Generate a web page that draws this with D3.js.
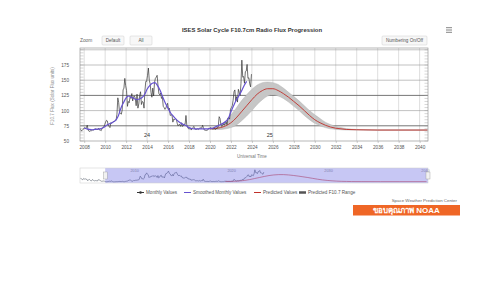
<!DOCTYPE html>
<html>
<head>
<meta charset="utf-8">
<script src="https://cdn.jsdelivr.net/npm/d3@7"></script>
<style>
  html, body { margin: 0; padding: 0; background: #fff; }
  svg { display: block; font-family: "Liberation Sans", Arial, sans-serif; }
</style>
</head>
<body>
<div id="chart"></div>
<script>
// observed monthly F10.7, one row per year starting 2005
const monthlyStart = 2005;
const monthlyValues = [
  100, 97, 90, 86, 99, 93, 96, 90, 91, 77, 86, 90,          // 2005
  83, 76, 76, 89, 81, 76, 76, 79, 77, 74, 87, 84,           // 2006
  83, 77, 72, 72, 74, 74, 72, 69, 67, 67, 69, 70,           // 2007
  72, 71, 72, 76, 68, 66, 66, 67, 67, 68, 68, 69,           // 2008
  70, 70, 69, 69, 71, 68, 68, 67, 71, 72, 73, 77,           // 2009
  81, 84, 83, 76, 74, 72, 80, 79, 81, 82, 82, 84,           // 2010
  84, 94, 121, 113, 96, 96, 94, 101, 134, 137, 153, 141,    // 2011
  133, 107, 115, 113, 122, 120, 128, 116, 123, 124, 120, 108, // 2012
  127, 104, 111, 125, 131, 110, 115, 114, 104, 132, 148, 148, // 2013
  158, 170, 150, 144, 130, 122, 137, 124, 146, 153, 155, 158, // 2014
  141, 128, 126, 129, 120, 123, 107, 105, 102, 104, 109, 112, // 2015
  101, 104, 92, 93, 93, 81, 86, 85, 87, 86, 79, 75,         // 2016
  77, 77, 74, 80, 74, 75, 78, 77, 92, 76, 72, 70,           // 2017
  70, 71, 68, 70, 72, 74, 70, 69, 69, 70, 69, 70,           // 2018
  72, 71, 71, 76, 72, 68, 68, 67, 68, 68, 71, 71,           // 2019
  72, 71, 70, 70, 70, 70, 69, 71, 71, 74, 90, 87,           // 2020
  77, 74, 76, 78, 76, 79, 81, 77, 88, 88, 86, 102,          // 2021
  105, 108, 117, 131, 134, 116, 123, 114, 135, 130, 125, 145, // 2022
  183, 155, 156, 145, 164, 165, 176, 153, 154, 144, 139, 160  // 2023
];

const smoothedDates = [
  2008.0, 2008.25, 2008.5, 2008.75, 2009.0, 2009.25, 2009.5, 2009.75,
  2010.0, 2010.25, 2010.5, 2010.75, 2011.0, 2011.25, 2011.5, 2011.75,
  2012.0, 2012.25, 2012.5, 2012.75, 2013.0, 2013.25, 2013.5, 2013.75,
  2014.0, 2014.25, 2014.5, 2014.75, 2015.0, 2015.25, 2015.5, 2015.75,
  2016.0, 2016.25, 2016.5, 2016.75, 2017.0, 2017.25, 2017.5, 2017.75,
  2018.0, 2018.25, 2018.5, 2018.75, 2019.0, 2019.25, 2019.5, 2019.75,
  2020.0, 2020.25, 2020.5, 2020.75, 2021.0, 2021.25, 2021.5, 2021.75,
  2022.0, 2022.25, 2022.5, 2022.75, 2023.0, 2023.25, 2023.5
];
const smoothedValues = [
  71, 70, 69, 68.5, 69, 69.5, 70, 71.5,
  74, 77, 79, 81, 84, 91, 104, 113,
  121, 124, 122, 120, 118, 119, 121, 126,
  135, 141, 145, 146, 141, 133, 122, 112,
  104, 96, 91, 86, 82, 79, 77, 75,
  72, 70.5, 70, 70, 70, 70, 70, 70,
  70.5, 71, 73, 75, 77, 79, 82, 87,
  98, 108, 117, 124, 132, 141, 148
];

const predictedDates = [
  2020.0, 2020.5, 2021.0, 2021.5, 2022.0, 2022.5, 2023.0, 2023.5,
  2024.0, 2024.5, 2025.0, 2025.5, 2026.0, 2026.5, 2027.0, 2027.5,
  2028.0, 2028.5, 2029.0, 2029.5, 2030.0, 2030.5, 2031.0, 2031.5,
  2032.0, 2032.5, 2033.0, 2034.0, 2036.0, 2038.0, 2040.75
];
const predictedValues = [
  70, 70.5, 72, 75, 80, 88, 98, 108,
  118, 127, 133, 136, 136, 133, 128, 122,
  115, 108, 100, 92, 85, 80, 76, 73,
  71, 70, 69, 68.5, 68, 68, 68
];
const predictedLow = [
  69, 69, 69, 70, 72, 76, 83, 91,
  100, 110, 118, 124, 126, 124, 120, 114,
  107, 100, 92, 85, 79, 75, 72, 70,
  69, 68.5, 68, 68, 67.5, 67.5, 67.5
];
const predictedHigh = [
  71, 73, 77, 83, 93, 104, 116, 126,
  135, 142, 146, 147, 146, 143, 137, 130,
  123, 116, 108, 100, 93, 87, 81, 77,
  74, 72, 70.5, 69, 68.5, 68.5, 68.5
];

const yTicks = [50, 75, 100, 125, 150, 175];
const xTicks = d3.range(2008, 2041, 2);
const navTicks = [2010, 2020, 2030, 2040];
const cycleLabels = [{t: 2014.0, label: '24'}, {t: 2025.7, label: '25'}];
const legendItems = ['Monthly Values', 'Smoothed Monthly Values', 'Predicted Values', 'Predicted F10.7 Range'];

const monthly = monthlyValues.map((v, i) => ({t: monthlyStart + (i + 0.5) / 12, v}));
const smoothed = smoothedDates.map((t, i) => ({t, v: smoothedValues[i]}));
const predicted = predictedDates.map((t, i) => ({t, v: predictedValues[i], lo: predictedLow[i], hi: predictedHigh[i]}));

const width = 500, height = 281;
const plot = {left: 80, right: 428, top: 48, bottom: 141};

const svg = d3.select('#chart').append('svg')
  .attr('width', width)
  .attr('height', height);

svg.append('rect').attr('width', width).attr('height', height).attr('fill', '#fff');

const x = d3.scaleLinear().domain([2007.6, 2040.8]).range([plot.left, plot.right]);
const y = d3.scaleLinear().domain([50, 200]).range([plot.bottom, 49.8]);

/* title, buttons, menu */
svg.append('text')
  .attr('x', 252).attr('y', 31.5)
  .attr('text-anchor', 'middle')
  .attr('font-size', 5.9).attr('font-weight', 'bold').attr('fill', '#333')
  .text('ISES Solar Cycle F10.7cm Radio Flux Progression');

svg.append('text').attr('x', 80).attr('y', 42.2)
  .attr('font-size', 4.8).attr('fill', '#666').text('Zoom');

const buttons = [
  {x: 102, w: 22, label: 'Default'},
  {x: 130, w: 22, label: 'All'},
  {x: 382, w: 45, label: 'Numbering On/Off'}
];
const btn = svg.selectAll('.btn').data(buttons).enter().append('g').attr('class', 'btn');
btn.append('rect')
  .attr('x', d => d.x).attr('y', 36).attr('width', d => d.w).attr('height', 9)
  .attr('rx', 1).attr('fill', '#f7f7f7').attr('stroke', '#ccc').attr('stroke-width', 0.5);
btn.append('text')
  .attr('x', d => d.x + d.w / 2).attr('y', 42.2)
  .attr('text-anchor', 'middle').attr('font-size', 4.6).attr('fill', '#555')
  .text(d => d.label);

svg.append('g').selectAll('line').data([27.7, 30, 32.3]).enter().append('line')
  .attr('x1', 446).attr('x2', 452).attr('y1', d => d).attr('y2', d => d)
  .attr('stroke', '#666').attr('stroke-width', 0.8);

/* grid */
const grid = svg.append('g');
grid.selectAll('.vg').data(xTicks).enter().append('line')
  .attr('x1', d => x(d)).attr('x2', d => x(d))
  .attr('y1', plot.top).attr('y2', plot.bottom)
  .attr('stroke', '#c8c8c8').attr('stroke-width', 0.6);
grid.selectAll('.hg').data([75, 100, 125, 150, 175, 200]).enter().append('line')
  .attr('x1', plot.left).attr('x2', plot.right)
  .attr('y1', d => y(d)).attr('y2', d => y(d))
  .attr('stroke', d => (d === 125 || d === 75) ? '#666' : '#999')
  .attr('stroke-width', d => (d === 125 || d === 75) ? 0.9 : 0.6);

// minor ticks along both sides
const minor = d3.range(50, 201, 5);
grid.selectAll('.ml').data(minor).enter().append('line')
  .attr('x1', plot.left).attr('x2', plot.left + 3.5)
  .attr('y1', d => y(d)).attr('y2', d => y(d))
  .attr('stroke', '#999').attr('stroke-width', 0.4);
grid.selectAll('.mr').data(minor).enter().append('line')
  .attr('x1', plot.right - 3.5).attr('x2', plot.right)
  .attr('y1', d => y(d)).attr('y2', d => y(d))
  .attr('stroke', '#999').attr('stroke-width', 0.4);

svg.append('defs').append('clipPath').attr('id', 'clip')
  .append('rect')
  .attr('x', plot.left).attr('y', plot.top)
  .attr('width', plot.right - plot.left).attr('height', plot.bottom - plot.top);

const series = svg.append('g').attr('clip-path', 'url(#clip)');

/* predicted range band + line */
series.append('path')
  .datum(predicted)
  .attr('fill', '#c6c6c6')
  .attr('stroke', '#aaa').attr('stroke-width', 0.4)
  .attr('d', d3.area().curve(d3.curveMonotoneX).x(d => x(d.t)).y0(d => y(d.lo)).y1(d => y(d.hi)));

series.append('path')
  .datum(predicted)
  .attr('fill', 'none').attr('stroke', '#c0302a').attr('stroke-width', 0.9)
  .attr('d', d3.line().curve(d3.curveMonotoneX).x(d => x(d.t)).y(d => y(d.v)));

series.append('path')
  .datum(monthly)
  .attr('fill', 'none').attr('stroke', '#333').attr('stroke-width', 0.7)
  .attr('d', d3.line().x(d => x(d.t)).y(d => y(d.v)));

series.append('path')
  .datum(smoothed)
  .attr('fill', 'none').attr('stroke', '#6652d0').attr('stroke-width', 1.2)
  .attr('d', d3.line().curve(d3.curveMonotoneX).x(d => x(d.t)).y(d => y(d.v)));

svg.append('g').selectAll('text').data(cycleLabels).enter().append('text')
  .attr('x', d => x(d.t)).attr('y', 136.5)
  .attr('text-anchor', 'middle').attr('font-size', 5.5).attr('fill', '#333')
  .text(d => d.label);

/* frame */
svg.append('rect')
  .attr('x', plot.left).attr('y', plot.top)
  .attr('width', plot.right - plot.left).attr('height', plot.bottom - plot.top)
  .attr('fill', 'none').attr('stroke', '#999').attr('stroke-width', 0.7);

/* axes */
const xAxis = svg.append('g')
  .attr('transform', `translate(0, ${plot.bottom})`)
  .call(d3.axisBottom(x).tickValues(xTicks).tickFormat(d3.format('d')).tickSize(2).tickPadding(3));
xAxis.select('.domain').remove();
xAxis.selectAll('line').attr('stroke', '#999').attr('stroke-width', 0.5);
xAxis.selectAll('text').attr('font-size', 4.7).attr('fill', '#555').attr('font-family', null);

const yAxis = svg.append('g')
  .attr('transform', `translate(${plot.left}, 0)`)
  .call(d3.axisLeft(y).tickValues(yTicks).tickSize(0).tickPadding(11));
yAxis.select('.domain').remove();
yAxis.selectAll('text').attr('font-size', 4.7).attr('fill', '#555').attr('font-family', null);

svg.append('text')
  .attr('x', 252).attr('y', 157.5)
  .attr('text-anchor', 'middle').attr('font-size', 4.5).attr('fill', '#777')
  .text('Universal Time');

svg.append('text')
  .attr('transform', 'translate(53.5, 96) rotate(-90)')
  .attr('text-anchor', 'middle').attr('font-size', 4.6).attr('fill', '#888')
  .text('F10.7 Flux (Solar Flux units)');

/* navigator */
const nav = {top: 168, bottom: 183};
const xn = d3.scaleLinear().domain([2005, 2040.9]).range([plot.left, plot.right]);
const yn = d3.scaleLinear().domain([55, 200]).range([nav.bottom, nav.top]);
const navG = svg.append('g');

navG.append('path')
  .datum(monthly)
  .attr('fill', 'none').attr('stroke', '#5c6470').attr('stroke-width', 0.6)
  .attr('d', d3.line().x(d => xn(d.t)).y(d => yn(d.v)));
navG.append('path')
  .datum(predicted)
  .attr('fill', 'none').attr('stroke', '#d04040').attr('stroke-width', 0.6)
  .attr('d', d3.line().curve(d3.curveMonotoneX).x(d => xn(d.t)).y(d => yn(d.v)));

navG.selectAll('.nt').data(navTicks).enter().append('text')
  .attr('x', d => xn(d) + 2).attr('y', 172)
  .attr('font-size', 3.8).attr('fill', '#999')
  .text(d => d);

const selStart = xn(x.domain()[0]);
navG.append('rect')
  .attr('x', selStart).attr('y', nav.top)
  .attr('width', plot.right - selStart).attr('height', nav.bottom - nav.top)
  .attr('fill', 'rgb(80,80,220)').attr('fill-opacity', 0.32);
navG.append('rect')
  .attr('x', plot.left).attr('y', nav.top)
  .attr('width', plot.right - plot.left).attr('height', nav.bottom - nav.top)
  .attr('fill', 'none').attr('stroke', '#ccc').attr('stroke-width', 0.5);

navG.selectAll('.handle').data([selStart, plot.right]).enter().append('rect')
  .attr('x', d => d - 2).attr('y', 172).attr('width', 4).attr('height', 7)
  .attr('fill', '#f2f2f2').attr('stroke', '#999').attr('stroke-width', 0.4);

/* legend */
const legendX = [137, 184, 254, 299];
const legendColors = ['#333', '#6652d0', '#c0302a', '#555'];
const leg = svg.append('g').selectAll('g').data(legendItems).enter().append('g')
  .attr('transform', (d, i) => `translate(${legendX[i]}, 192.5)`);
leg.append('line')
  .attr('x1', 0).attr('x2', 7).attr('y1', 0).attr('y2', 0)
  .attr('stroke', (d, i) => legendColors[i])
  .attr('stroke-width', (d, i) => i === 3 ? 2.5 : 1);
leg.filter((d, i) => i === 0).append('circle')
  .attr('cx', 3.5).attr('cy', 0).attr('r', 1.3).attr('fill', '#333');
leg.append('text')
  .attr('x', 9).attr('y', 1.6)
  .attr('font-size', 4.6).attr('fill', '#555')
  .text(d => d);

/* credits */
svg.append('text')
  .attr('x', 457).attr('y', 201.5)
  .attr('text-anchor', 'end').attr('font-size', 4.4).attr('fill', '#666')
  .text('Space Weather Prediction Center');

svg.append('rect')
  .attr('x', 353).attr('y', 205).attr('width', 107).attr('height', 10.5)
  .attr('fill', '#ef6626');
svg.append('text')
  .attr('x', 406.5).attr('y', 213.2)
  .attr('text-anchor', 'middle').attr('font-size', 8).attr('font-weight', 'bold')
  .attr('fill', '#fff')
  .text('ขอบคุณภาพ NOAA');
</script>
</body>
</html>
